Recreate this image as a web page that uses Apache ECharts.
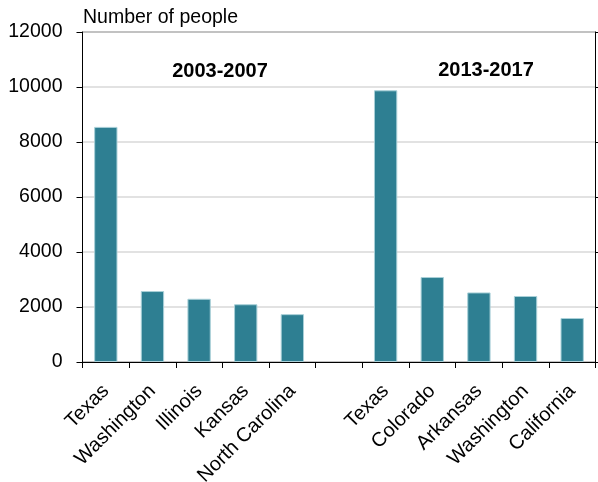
<!DOCTYPE html>
<html><head><meta charset="utf-8">
<script src="https://cdn.jsdelivr.net/npm/echarts@6/dist/echarts.min.js"></script>
<style>html,body{margin:0;padding:0;background:#fff}#c{width:598px;height:482px}</style>
</head><body><div id="c"></div>
<script>
const categories = ['Texas','Washington','Illinois','Kansas','North Carolina','','Texas','Colorado','Arkansas','Washington','California'];
const values = [8550, 2580, 2300, 2100, 1740, null, 9880, 3090, 2530, 2400, 1600];
const yTicks = [0, 2000, 4000, 6000, 8000, 10000, 12000];
const groupTitles = ['2003-2007', '2013-2017'];
const yTitle = 'Number of people';

const FONT = '"Liberation Sans", Arial, sans-serif';
const chart = echarts.init(document.getElementById('c'), null, {renderer: 'canvas'});
chart.setOption({
  animation: false,
  grid: {left: 82.5, right: 2.5, top: 32, bottom: 120, show: true, borderColor: '#000', borderWidth: 1,
         containLabel: false, outerBoundsMode: 'none'},
  xAxis: {
    type: 'category', data: categories, boundaryGap: true,
    axisLine: {lineStyle: {color: '#000', width: 1}},
    axisTick: {show: true, length: 6, lineStyle: {color: '#000'}, alignWithLabel: false},
    axisLabel: {rotate: 45, color: '#000', fontFamily: FONT, fontSize: 20, margin: 26, interval: 0}
  },
  yAxis: [{
    type: 'value', min: yTicks[0], max: yTicks[yTicks.length - 1], interval: 2000,
    axisLine: {show: true, lineStyle: {color: '#000'}},
    axisTick: {show: true, length: 6, lineStyle: {color: '#000'}},
    axisLabel: {color: '#000', fontFamily: FONT, fontSize: 19.5, margin: 20, formatter: v => String(v)},
    splitLine: {show: true, lineStyle: {color: '#d9d9d9', width: 1.5}}
  }, {
    type: 'value', position: 'right', min: yTicks[0], max: yTicks[yTicks.length - 1], interval: 2000,
    axisLine: {show: true, lineStyle: {color: '#000'}},
    axisTick: {show: true, length: 4, lineStyle: {color: '#000'}},
    axisLabel: {show: false}, splitLine: {show: false}
  }],
  series: [{
    type: 'bar', data: values, barWidth: '50%',
    itemStyle: {color: '#2e7f92', borderColor: '#a9d0d8', borderWidth: 1}
  }],
  graphic: [
    {type: 'text', left: 83, top: 8, style: {text: yTitle, font: '19.5px ' + FONT, fill: '#000'}},
    {type: 'text', x: 220, y: 71, style: {text: groupTitles[0], font: 'bold 20px ' + FONT, fill: '#000', textAlign: 'center', textVerticalAlign: 'middle'}},
    {type: 'text', x: 486, y: 70, style: {text: groupTitles[1], font: 'bold 20px ' + FONT, fill: '#000', textAlign: 'center', textVerticalAlign: 'middle'}}
  ]
});
</script></body></html>
